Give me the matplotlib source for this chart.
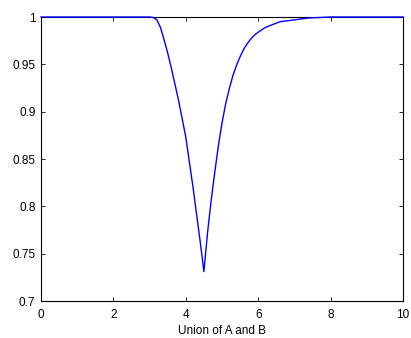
import matplotlib
matplotlib.use("Agg")
import matplotlib.pyplot as plt

x_vals = [0, 1, 2, 3.0, 3.1, 3.2, 3.3, 3.4, 3.5, 3.6, 3.8, 4.0, 4.2, 4.4, 4.5, 4.6,
          4.7, 4.8, 4.9, 5.0, 5.1, 5.2, 5.3, 5.4, 5.5, 5.6, 5.7, 5.8, 5.9, 6.0,
          6.2, 6.4, 6.6, 6.8, 7.0, 7.4, 8.0, 9, 10]
y_vals = [1.0, 1.0, 1.0, 1.0, 0.9995, 0.997, 0.989, 0.976, 0.962, 0.946, 0.912,
          0.873, 0.820, 0.762, 0.731, 0.772, 0.806, 0.836, 0.864, 0.888, 0.908,
          0.924, 0.938, 0.949, 0.958, 0.966, 0.972, 0.977, 0.981, 0.984, 0.989,
          0.992, 0.995, 0.996, 0.997, 0.999, 1.0, 1.0, 1.0]
x_ticks = [0, 2, 4, 6, 8, 10]
y_ticks = [0.7, 0.75, 0.8, 0.85, 0.9, 0.95, 1]
y_ticklabels = ["0.7", "0.75", "0.8", "0.85", "0.9", "0.95", "1"]
x_label = "Union of A and B"

plt.rcParams['font.family'] = ['Liberation Sans', 'DejaVu Sans']
fig = plt.figure(figsize=(4.11, 3.38), dpi=100)
ax = fig.add_axes([41/411, 1-301/338, (403-41)/411, (301-17)/338])
ax.plot(x_vals, y_vals, color='#0000ff', linewidth=1.0, clip_on=False, zorder=3)
ax.set_xlim(0, 10)
ax.set_ylim(0.7, 1)
ax.set_xticks(x_ticks)
ax.set_xticklabels([str(t) for t in x_ticks])
ax.set_yticks(y_ticks)
ax.set_yticklabels(y_ticklabels)
ax.tick_params(direction='in', top=True, right=True, length=3, width=0.6,
               labelsize=8.5)
ax.tick_params(axis='x', pad=6)
ax.tick_params(axis='y', pad=4)
for s in ax.spines.values():
    s.set_linewidth(0.8)
ax.set_xlabel(x_label, fontsize=8.5, labelpad=3)
fig.savefig("out.png", dpi=100)
